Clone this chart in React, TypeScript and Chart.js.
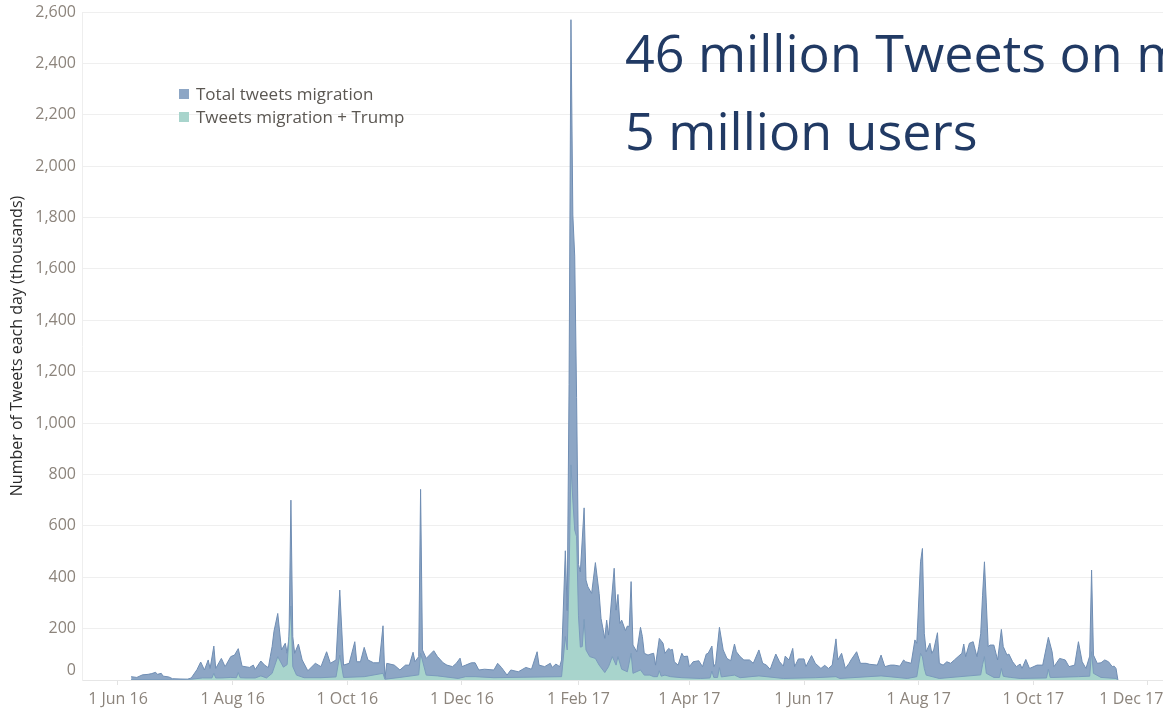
import React, { useEffect, useRef } from "react";
import { Chart, registerables } from "chart.js";

Chart.register(...registerables);

// Day offsets are counted from 1 Jun 2016 (day 0).
const totalDays = [
  7, 10, 13, 16, 18, 20, 21, 23, 24, 27,
  29, 33, 37, 39, 42, 44, 46, 48, 49, 51,
  52, 55, 57, 60, 62, 64, 66, 70, 72, 73,
  76, 78, 80, 81, 82, 83, 85, 87, 89, 90,
  91, 92, 93, 94, 96, 98, 101, 105, 108, 111,
  113, 116, 118, 120, 123, 126, 127, 129, 131, 133,
  136, 139, 141, 142, 143, 147, 150, 153, 155, 157,
  158, 160, 161, 162, 164, 168, 170, 173, 175, 178,
  180, 182, 183, 185, 188, 190, 192, 195, 200, 202,
  204, 207, 209, 213, 217, 220, 223, 224, 227, 230,
  231, 233, 235, 236, 238, 239, 240, 241, 242, 243,
  244, 245, 246, 248, 249, 250, 252, 254, 256, 257,
  259, 260, 261, 264, 265, 266, 267, 268, 270, 271,
  272, 273, 274, 276, 278, 279, 280, 282, 283, 285,
  286, 288, 290, 291, 293, 294, 295, 296, 298, 300,
  301, 303, 304, 306, 309, 311, 313, 314, 316, 317,
  318, 320, 322, 324, 326, 328, 329, 331, 333, 336,
  338, 341, 343, 345, 347, 348, 350, 352, 354, 355,
  357, 359, 360, 362, 365, 366, 369, 371, 374, 376,
  378, 380, 382, 383, 385, 387, 389, 390, 393, 395,
  398, 400, 404, 406, 408, 411, 413, 416, 418, 419,
  422, 424, 425, 427, 428, 429, 430, 432, 433, 434,
  436, 437, 439, 441, 443, 445, 447, 449, 450, 451,
  453, 455, 457, 458, 459, 460, 461, 462, 463, 464,
  466, 468, 470, 471, 473, 474, 476, 478, 480, 481,
  483, 485, 489, 492, 495, 497, 498, 501, 504, 506,
  509, 511, 513, 515, 517, 518, 519, 521, 523, 525,
  527, 529, 530, 531, 532,
];

const totalValues = [
  13, 10, 20, 22, 25, 30, 22, 26, 15, 12,
  5, 4, 3, 8, 40, 70, 39, 78, 45, 132,
  45, 84, 52, 91, 97, 122, 54, 49, 58, 41,
  74, 58, 48, 90, 130, 190, 259, 117, 143, 104,
  169, 700, 169, 104, 140, 78, 36, 65, 52, 110,
  65, 78, 350, 58, 65, 149, 71, 71, 127, 78,
  67, 67, 211, 6, 65, 58, 39, 58, 58, 108,
  71, 91, 742, 117, 84, 114, 91, 67, 58, 52,
  65, 85, 52, 58, 67, 67, 39, 42, 39, 65,
  49, 19, 39, 32, 49, 42, 110, 58, 52, 65,
  49, 62, 52, 78, 503, 270, 1150, 2570, 1810, 1650,
  1100, 450, 421, 670, 389, 363, 337, 457, 337, 240,
  162, 233, 175, 435, 272, 333, 220, 233, 192, 210,
  208, 383, 136, 110, 205, 169, 104, 97, 100, 104,
  58, 162, 143, 104, 123, 117, 119, 71, 58, 104,
  91, 93, 52, 71, 75, 52, 101, 104, 132, 52,
  65, 205, 117, 84, 75, 140, 110, 91, 78, 78,
  65, 117, 65, 58, 41, 62, 101, 71, 54, 93,
  78, 123, 52, 82, 82, 52, 95, 65, 45, 57,
  45, 58, 160, 78, 104, 45, 65, 78, 110, 65,
  65, 61, 58, 97, 52, 58, 58, 54, 78, 71,
  65, 156, 143, 460, 512, 182, 110, 143, 104, 117,
  184, 65, 58, 71, 65, 78, 91, 104, 140, 91,
  143, 149, 91, 130, 180, 330, 460, 300, 130, 136,
  136, 78, 197, 130, 97, 101, 71, 52, 62, 45,
  80, 45, 58, 58, 166, 110, 52, 84, 78, 52,
  58, 149, 71, 45, 93, 428, 97, 65, 67, 78,
  71, 52, 54, 45, 0,
];

const trumpDays = [
  7, 30, 39, 45, 50, 51, 52, 55, 60, 63,
  64, 65, 68, 73, 76, 79, 82, 85, 88, 90,
  92, 93, 95, 99, 108, 116, 118, 120, 131, 141,
  142, 150, 160, 161, 164, 170, 181, 185, 190, 200,
  236, 238, 239, 240, 241, 242, 243, 244, 245, 246,
  247, 248, 249, 251, 254, 256, 259, 261, 263, 265,
  266, 268, 271, 273, 274, 278, 280, 283, 285, 287,
  288, 289, 291, 294, 300, 310, 315, 316, 317, 319,
  320, 321, 322, 328, 331, 341, 354, 371, 382, 384,
  406, 420, 425, 427, 428, 429, 430, 437, 459, 460,
  461, 462, 466, 469, 470, 471, 472, 475, 480, 494,
  495, 496, 498, 511, 517, 518, 519, 523, 531, 532,
];

const trumpValues = [
  2, 1, 3, 8, 8, 26, 8, 8, 10, 9,
  29, 9, 8, 8, 16, 8, 26, 91, 50, 60,
  288, 52, 19, 9, 9, 12, 97, 10, 13, 26,
  3, 10, 20, 104, 19, 16, 6, 13, 13, 9,
  13, 169, 117, 400, 837, 700, 584, 558, 250, 128,
  130, 236, 117, 91, 84, 58, 29, 52, 91, 58,
  91, 42, 32, 104, 26, 39, 19, 19, 13, 13,
  36, 15, 19, 13, 9, 6, 8, 35, 10, 10,
  48, 12, 13, 19, 9, 16, 6, 9, 13, 6,
  16, 6, 13, 104, 90, 45, 19, 6, 20, 60,
  91, 26, 10, 10, 45, 15, 13, 10, 6, 8,
  42, 10, 10, 13, 15, 110, 26, 10, 6, 0,
];

const tickDays = [0, 61, 122, 183, 245, 304, 365, 426, 487, 548];
const tickLabels = [
  "1 Jun 16",
  "1 Aug 16",
  "1 Oct 16",
  "1 Dec 16",
  "1 Feb 17",
  "1 Apr 17",
  "1 Jun 17",
  "1 Aug 17",
  "1 Oct 17",
  "1 Dec 17        ",
];

const seriesNames = ["Total tweets migration", "Tweets migration + Trump"];
const headline = ["46 million Tweets on migration", "5 million users"];

const TOTAL_FILL = "#8da6c5";
const TOTAL_LINE = "#6f8db3";
const TRUMP_FILL = "#a8d4cc";
const TRUMP_LINE = "#7b9bbd";
const TICK_COLOR = "#8c847c";
const FONT = '"Open Sans", "Noto Sans", sans-serif';

export default function App() {
  const canvasRef = useRef<HTMLCanvasElement | null>(null);

  useEffect(() => {
    if (!canvasRef.current) return;
    const totalData = totalDays.map((d, i) => ({ x: d, y: totalValues[i] }));
    const trumpData = trumpDays.map((d, i) => ({ x: d, y: trumpValues[i] }));

    const chart = new Chart(canvasRef.current, {
      type: "line",
      data: {
        datasets: [
          {
            label: seriesNames[1],
            data: trumpData,
            backgroundColor: TRUMP_FILL,
            borderColor: TRUMP_LINE,
            borderWidth: 1,
            pointRadius: 0,
            fill: "origin",
            tension: 0,
            order: 0,
          },
          {
            label: seriesNames[0],
            data: totalData,
            backgroundColor: TOTAL_FILL,
            borderColor: TOTAL_LINE,
            borderWidth: 1,
            pointRadius: 0,
            fill: "origin",
            tension: 0,
            order: 1,
          },
        ],
      },
      options: {
        responsive: false,
        animation: false,
        layout: { padding: { top: 12, left: 0, right: 0, bottom: 0 } },
        plugins: {
          legend: { display: false },
          tooltip: { enabled: false },
        },
        scales: {
          x: {
            type: "linear",
            min: -19.15,
            max: 556,
            afterBuildTicks: (scale: any) => {
              scale.ticks = tickDays.map((v) => ({ value: v }));
            },
            afterFit: (scale: any) => {
              scale.height = 29;
              scale.paddingLeft = 0;
              scale.paddingRight = 0;
            },
            ticks: {
              autoSkip: false,
              maxRotation: 0,
              minRotation: 0,
              padding: 5,
              color: TICK_COLOR,
              font: { family: FONT, size: 16 },
              callback: (value: any) => {
                const i = tickDays.indexOf(Number(value));
                return i >= 0 ? tickLabels[i] : "";
              },
            },
            grid: {
              drawOnChartArea: false,
              drawTicks: true,
              tickLength: 5,
              color: "#e2e2e2",
            },
            border: { display: true, color: "#e6e6e6" },
          },
          y: {
            type: "linear",
            min: 0,
            max: 2600,
            afterFit: (scale: any) => {
              scale.width = 82;
              scale.paddingTop = 0;
              scale.paddingBottom = 0;
            },
            ticks: {
              stepSize: 200,
              padding: 6,
              color: TICK_COLOR,
              font: { family: FONT, size: 16 },
              callback: (value: any) =>
                Number(value) === 0 ? ["0", ""] : Number(value).toLocaleString("en-US"),
            },
            grid: { color: "#efefef", drawTicks: false },
            border: { display: true, color: "#eeeeee" },
            title: {
              display: true,
              text: "Number of Tweets each day (thousands)",
              color: "#2b2b2b",
              font: { family: FONT, size: 16 },
              padding: { top: 8, bottom: 0 },
            },
          },
        },
      },
    });
    return () => chart.destroy();
  }, []);

  const legendRow = (color: string, text: string, top: number) => (
    <div
      style={{
        position: "absolute",
        left: 179,
        top,
        height: 23,
        display: "flex",
        alignItems: "center",
        whiteSpace: "nowrap",
      }}
    >
      <span style={{ display: "inline-block", width: 10, height: 10, background: color, marginRight: 7 }} />
      <span style={{ fontSize: 17, lineHeight: "23px", color: "#5b5752" }}>{text}</span>
    </div>
  );

  return (
    <div
      style={{
        position: "absolute",
        left: 0,
        top: 0,
        width: 1163,
        height: 709,
        overflow: "hidden",
        background: "#ffffff",
        fontFamily: FONT,
      }}
    >
      <canvas ref={canvasRef} width={1163} height={709} style={{ position: "absolute", left: 0, top: 0 }} />
      {legendRow(TOTAL_FILL, seriesNames[0], 82)}
      {legendRow(TRUMP_FILL, seriesNames[1], 105)}
      <div
        style={{
          position: "absolute",
          left: 625,
          top: 26,
          fontSize: 52,
          lineHeight: "52px",
          color: "#213a64",
          whiteSpace: "nowrap",
        }}
      >
        {headline[0]}
      </div>
      <div
        style={{
          position: "absolute",
          left: 625,
          top: 104,
          fontSize: 52,
          lineHeight: "52px",
          color: "#213a64",
          whiteSpace: "nowrap",
        }}
      >
        {headline[1]}
      </div>
    </div>
  );
}
